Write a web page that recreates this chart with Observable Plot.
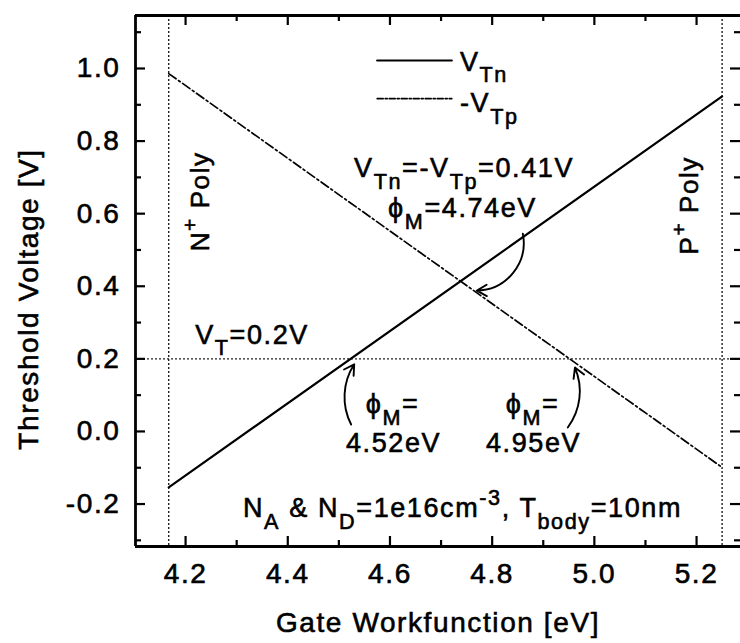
<!DOCTYPE html>
<html><head><meta charset="utf-8">
<script src="https://cdn.jsdelivr.net/npm/d3@7"></script>
<script src="https://cdn.jsdelivr.net/npm/@observablehq/plot@0.6"></script>
<style>
html,body{margin:0;padding:0;background:#fff;}
#chart svg{display:block;}
#chart svg text{font-family:"Liberation Sans",Arial,Helvetica,sans-serif;letter-spacing:1.6px;stroke:#000;stroke-width:0.6px;fill:#000;}
</style></head><body><div id="chart"></div>
<script>
// ---- axes ----
const xDomain = [4.102, 5.286];
const yDomain = [-0.317, 1.146];
const xTicks = [4.2, 4.4, 4.6, 4.8, 5.0, 5.2];
const xMinorTicks = [4.3, 4.5, 4.7, 4.9, 5.1];
const yTicks = [-0.2, 0.0, 0.2, 0.4, 0.6, 0.8, 1.0];
const yMinorTicks = [-0.3, -0.1, 0.1, 0.3, 0.5, 0.7, 0.9, 1.1];
const xLabel = "Gate Workfunction [eV]";
const yLabel = "Threshold Voltage [V]";

// ---- series ----
const workfunction = [4.167, 5.25];
const vtn = [-0.154, 0.923];
const negVtp = [0.986, -0.099];
const seriesNames = ["V_{Tn}", "-V_{Tp}"];

// ---- reference lines ----
const polyEdges = [4.167, 5.25];
const targetVT = [0.2];

// ---- legend ----
const legendX = [4.575, 4.721];
const legendY = [1.022, 0.917];
const legendTextX = [4.737, 4.737];
const legendTextY = [0.994, 0.879];

// ---- annotations ----
const notes = [
  {x: 4.745, y: 0.700, t: "V_{Tn}=-V_{Tp}=0.41V"},
  {x: 4.742, y: 0.590, t: "ϕ_{M}=4.74eV"},
  {x: 4.330, y: 0.242, t: "V_{T}=0.2V"},
  {x: 4.605, y: 0.050, t: "ϕ_{M}="},
  {x: 4.607, y: -0.058, t: "4.52eV"},
  {x: 4.879, y: 0.050, t: "ϕ_{M}="},
  {x: 4.881, y: -0.058, t: "4.95eV"},
  {x: 4.742, y: -0.237, t: "N_{A} & N_{D}=1e16cm^{-3}, T_{body}=10nm"}
];
const polyLabels = [
  {x: 4.229, y: 0.634, t: "N^{+} Poly"},
  {x: 5.186, y: 0.623, t: "P^{+} Poly"}
];
const arrow452 = [{x1: 4.524, y1: 0.019, x2: 4.530, y2: 0.185}];
const arrow474 = [{x1: 4.860, y1: 0.545, x2: 4.770, y2: 0.388}];
const arrow495 = [{x1: 4.948, y1: 0.011, x2: 4.962, y2: 0.176}];

const rows = [];
workfunction.forEach((w, i) => {
  rows.push({wf: w, v: vtn[i], s: seriesNames[0]});
  rows.push({wf: w, v: negVtp[i], s: seriesNames[1]});
});
const legendRows = [];
legendX.forEach(x => {
  legendRows.push({x, y: legendY[0], s: seriesNames[0]});
  legendRows.push({x, y: legendY[1], s: seriesNames[1]});
});

const W = 740, H = 643, mL = 135, mR = 0, mT = 15, mB = 97;
const pw = W - mL - mR, ph = H - mT - mB;
const major = 10, minor = 6;

const plot = Plot.plot({
  width: W, height: H,
  marginLeft: mL, marginRight: mR, marginTop: mT, marginBottom: mB,
  style: {background: "#fff", color: "#000", fontFamily: "Liberation Sans, Arial, sans-serif"},
  x: {domain: xDomain},
  y: {domain: yDomain},
  marks: [
    // reference dotted lines
    Plot.ruleX(polyEdges, {stroke: "#222", strokeWidth: 1.4, strokeDasharray: "2,2"}),
    Plot.ruleY(targetVT, {stroke: "#222", strokeWidth: 1.4, strokeDasharray: "2,2"}),
    // series
    Plot.line(rows.filter(d => d.s === seriesNames[0]), {x: "wf", y: "v", stroke: "#000", strokeWidth: 2.2}),
    Plot.line(rows.filter(d => d.s === seriesNames[1]), {x: "wf", y: "v", stroke: "#000", strokeWidth: 1.7, strokeDasharray: "9,3,2,3"}),
    // legend
    Plot.line(legendRows.filter(d => d.s === seriesNames[0]), {x: "x", y: "y", stroke: "#000", strokeWidth: 2.2}),
    Plot.line(legendRows.filter(d => d.s === seriesNames[1]), {x: "x", y: "y", stroke: "#000", strokeWidth: 1.7, strokeDasharray: "6,2,2,2"}),
    Plot.text(seriesNames, {x: (d, i) => legendTextX[i], y: (d, i) => legendTextY[i], text: d => d, textAnchor: "start", lineAnchor: "bottom", fontSize: 27}),
    // annotations
    Plot.text(notes, {x: "x", y: "y", text: "t", textAnchor: "middle", lineAnchor: "bottom", fontSize: 27}),
    Plot.text(polyLabels, {x: "x", y: "y", text: "t", rotate: -90, textAnchor: "middle", lineAnchor: "middle", fontSize: 26}),
    Plot.arrow(arrow452, {x1: "x1", y1: "y1", x2: "x2", y2: "y2", bend: 30, stroke: "#000", strokeWidth: 1.9, headLength: 9}),
    Plot.arrow(arrow474, {x1: "x1", y1: "y1", x2: "x2", y2: "y2", bend: 50, stroke: "#000", strokeWidth: 1.9, headLength: 9}),
    Plot.arrow(arrow495, {x1: "x1", y1: "y1", x2: "x2", y2: "y2", bend: -30, stroke: "#000", strokeWidth: 1.9, headLength: 9}),
    // inward ticks on all four sides
    Plot.ruleX(xTicks, {insetTop: ph - major, strokeWidth: 2.2}),
    Plot.ruleX(xMinorTicks, {insetTop: ph - minor, strokeWidth: 2.2}),
    Plot.ruleX(xTicks, {insetBottom: ph - major, strokeWidth: 2.2}),
    Plot.ruleX(xMinorTicks, {insetBottom: ph - minor, strokeWidth: 2.2}),
    Plot.ruleY(yTicks, {insetRight: pw - major, strokeWidth: 2.2}),
    Plot.ruleY(yMinorTicks, {insetRight: pw - minor, strokeWidth: 2.2}),
    Plot.ruleY(yTicks, {insetLeft: pw - major, strokeWidth: 2.2}),
    Plot.ruleY(yMinorTicks, {insetLeft: pw - minor, strokeWidth: 2.2}),
    // tick labels
    Plot.axisX({ticks: xTicks, tickSize: 0, tickPadding: 17, tickFormat: d => d.toFixed(1), fontSize: 28, label: null}),
    Plot.axisY({ticks: yTicks, tickSize: 0, tickPadding: 15, tickFormat: d => d.toFixed(1), fontSize: 28, label: null}),
    // axis titles
    Plot.text([xLabel], {frameAnchor: "bottom", lineAnchor: "bottom", textAnchor: "middle", dy: 85, fontSize: 28, ariaLabel: "axis-title"}),
    Plot.text([yLabel], {frameAnchor: "left", rotate: -90, lineAnchor: "bottom", textAnchor: "middle", dx: -98, dy: 18, fontSize: 28, ariaLabel: "axis-title"}),
    // frame (left, top, bottom; right edge lies just beyond the image border)
    Plot.ruleX([xDomain[0]], {stroke: "#000", strokeWidth: 2.8}),
    Plot.ruleY(yDomain, {stroke: "#000", strokeWidth: 2.8})
  ]
});
document.getElementById("chart").appendChild(plot);

d3.select(plot).selectAll('g[aria-label="axis-title"] text').style("letter-spacing", "2.8px");

// rich text: _{sub} and ^{sup}
d3.select(plot).selectAll("text").each(function () {
  const t = this.textContent;
  if (!/[_^]\{/.test(t)) return;
  const fs = parseFloat(getComputedStyle(this).fontSize) || 27;
  const parts = [];
  const re = /([_^])\{([^}]*)\}/g;
  let last = 0, m;
  while ((m = re.exec(t))) {
    if (m.index > last) parts.push({s: t.slice(last, m.index), k: 0});
    parts.push({s: m[2], k: m[1] === "_" ? 1 : -1});
    last = re.lastIndex;
  }
  if (last < t.length) parts.push({s: t.slice(last), k: 0});
  this.textContent = "";
  let cur = 0;
  for (const p of parts) {
    const ts = d3.select(this).append("tspan").text(p.s);
    const target = p.k === 1 ? fs * 0.42 : p.k === -1 ? -fs * 0.45 : 0;
    if (target !== cur) ts.attr("dy", target - cur);
    cur = target;
    if (p.k) ts.attr("font-size", fs * 0.8);
  }
});
</script></body></html>
